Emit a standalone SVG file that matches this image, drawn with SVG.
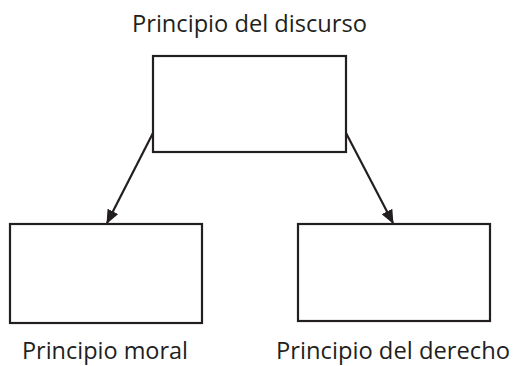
<svg xmlns="http://www.w3.org/2000/svg" width="514" height="366" viewBox="0 0 514 366">
<style>
.box{fill:#fff;stroke:#231f20;stroke-width:2.2}
.lbl{font-family:"Open Sans","Noto Sans",sans-serif;font-size:24px;fill:#231f20}
.edge{stroke:#231f20;stroke-width:2.2;fill:none}
</style>
<defs>
<marker id="ah" markerWidth="14" markerHeight="12" refX="13" refY="6" orient="auto" markerUnits="userSpaceOnUse" viewBox="0 0 14 12">
<path d="M0,0 L14,6 L0,12 z" fill="#231f20"/>
</marker>
</defs>
<rect width="514" height="366" fill="#fff"/>
<g id="connectors">
<path class="edge" d="M153,133 L107,223" marker-end="url(#ah)"/>
<path class="edge" d="M346,133 L393,223" marker-end="url(#ah)"/>
</g>
<g id="discurso">
<rect class="box" x="153" y="56" width="193" height="96"/>
<text class="lbl" x="132" y="32" textLength="235" lengthAdjust="spacingAndGlyphs">Principio del discurso</text>
</g>
<g id="moral">
<rect class="box" x="10" y="224" width="192" height="99"/>
<text class="lbl" x="22" y="359" textLength="166" lengthAdjust="spacingAndGlyphs">Principio moral</text>
</g>
<g id="derecho">
<rect class="box" x="298" y="224" width="192" height="97"/>
<text class="lbl" x="276" y="359" textLength="234" lengthAdjust="spacingAndGlyphs">Principio del derecho</text>
</g>
</svg>
